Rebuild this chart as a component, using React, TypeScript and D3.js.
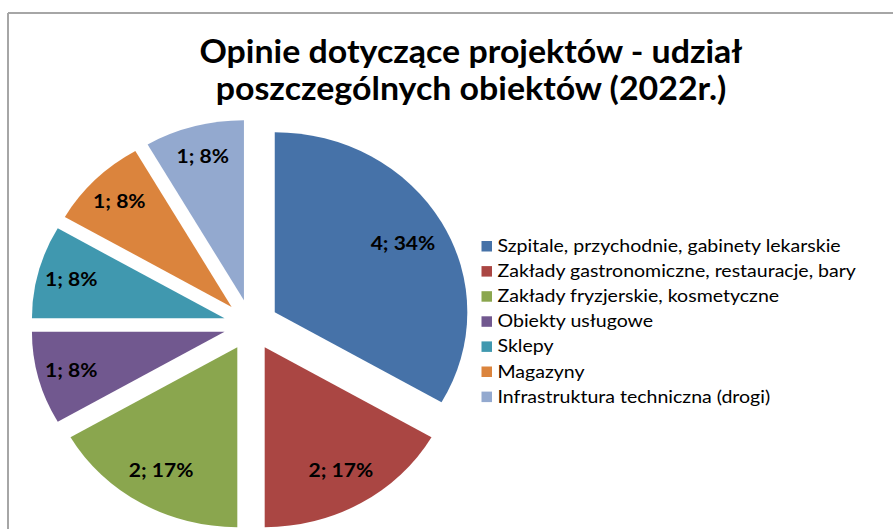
import React from "react";
import * as d3 from "d3";

const categories = [
  "Szpitale, przychodnie, gabinety lekarskie",
  "Zakłady gastronomiczne, restauracje, bary",
  "Zakłady fryzjerskie, kosmetyczne",
  "Obiekty usługowe",
  "Sklepy",
  "Magazyny",
  "Infrastruktura techniczna (drogi)",
];
const values = [4, 2, 2, 1, 1, 1, 1];
const percentLabels = ["34%", "17%", "17%", "8%", "8%", "8%", "8%"];
const colors = ["#4672A8", "#AA4643", "#8AA64E", "#71588F", "#4098AF", "#DB843D", "#93A9CF"];
const titleLines = ["Opinie dotyczące projektów - udział", "poszczególnych obiektów (2022r.)"];

const W = 893;
const H = 529;
const cx = 251;
const cy = 325;
const R = 180;
const sx = 1.07;
const explode = 25.6;
const FONT = "Lato, 'Open Sans', sans-serif";

export default function App() {
  const pie = d3.pie<number>().sort(null).startAngle(0).endAngle(2 * Math.PI);
  const arcs = pie(values);
  const arc = d3.arc<d3.PieArcDatum<number>>().innerRadius(0).outerRadius(R);
  const legendY = d3.scaleLinear().domain([0, categories.length - 1]).range([246, 396.6]);
  const labelRadius = (v: number) => (v >= 4 ? 164 : v >= 2 ? 168 : 174);

  return (
    <svg width={W} height={H} style={{ position: "absolute", left: 0, top: 0, background: "#fff" }}>
      <rect x={0} y={0} width={W} height={H} fill="#fff" />
      <line x1={8} y1={13} x2={W} y2={13} stroke="#A6A6A6" strokeWidth={2} />
      <line x1={8} y1={13} x2={8} y2={H} stroke="#A6A6A6" strokeWidth={2} />
      {titleLines.map((t, i) => (
        <text
          key={i}
          transform={`translate(471,${63 + i * 37}) scale(1.06,1)`}
          textAnchor="middle"
          fontFamily={FONT}
          fontWeight="bold"
          fontSize={32}
          fill="#000"
        >
          {t}
        </text>
      ))}
      <g transform={`translate(${cx},${cy}) scale(${sx},1)`}>
        {arcs.map((a, i) => {
          const mid = (a.startAngle + a.endAngle) / 2;
          const ox = explode * Math.sin(mid);
          const oy = -explode * Math.cos(mid);
          return (
            <path key={i} d={arc(a) || ""} fill={colors[i]} transform={`translate(${ox},${oy})`} />
          );
        })}
      </g>
      {arcs.map((a, i) => {
        const mid = (a.startAngle + a.endAngle) / 2;
        const lr = labelRadius(values[i]);
        const x = cx + sx * lr * Math.sin(mid);
        const y = cy - lr * Math.cos(mid);
        return (
          <text
            key={i}
            transform={`translate(${x},${y + 6.5}) scale(1.17,1)`}
            textAnchor="middle"
            fontFamily={FONT}
            fontWeight="bold"
            fontSize={18}
            fill="#000"
          >
            {`${values[i]}; ${percentLabels[i]}`}
          </text>
        );
      })}
      {categories.map((c, i) => (
        <g key={i} transform={`translate(481.5,${legendY(i)})`}>
          <rect x={0} y={-5} width={10.5} height={10.5} fill={colors[i]} />
          <text
            transform="translate(16,6) scale(1.15,1)"
            fontFamily={FONT}
            fontSize={17}
            fill="#000"
          >
            {c}
          </text>
        </g>
      ))}
    </svg>
  );
}
